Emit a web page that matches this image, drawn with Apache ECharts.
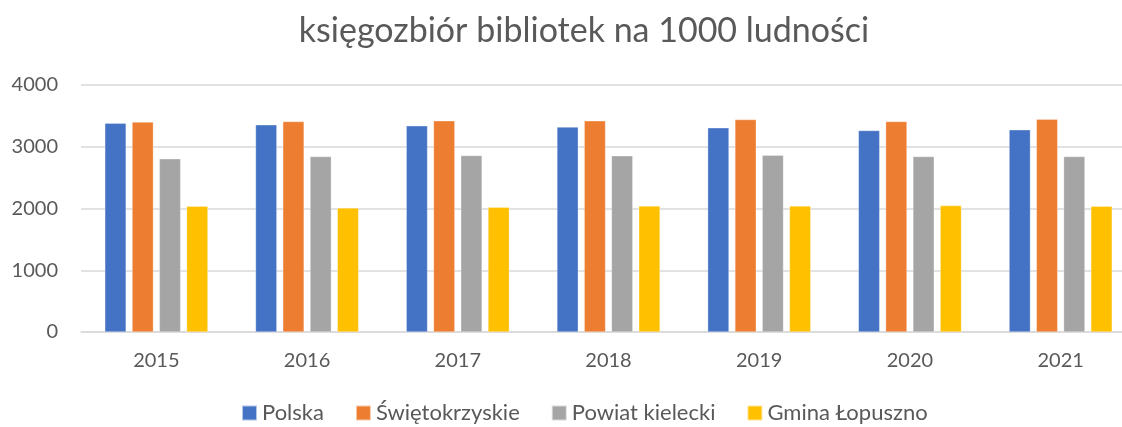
<!DOCTYPE html>
<html>
<head>
<meta charset="utf-8">
<script src="https://cdn.jsdelivr.net/npm/echarts@6/dist/echarts.min.js"></script>
<style>html,body{margin:0;padding:0;background:#fff;}#c{width:1122px;height:427px;}</style>
</head>
<body>
<div id="c"></div>
<script>
const years = ['2015','2016','2017','2018','2019','2020','2021'];
const polska = [3382, 3355, 3339, 3318, 3306, 3263, 3274];
const swietokrzyskie = [3399, 3408, 3420, 3420, 3441, 3408, 3447];
const powiatKielecki = [2804, 2841, 2858, 2853, 2864, 2841, 2841];
const gminaLopuszno = [2037, 2010, 2021, 2042, 2042, 2047, 2037];
const seriesNames = ['Polska', 'Świętokrzyskie', 'Powiat kielecki', 'Gmina Łopuszno'];
const yTicks = [0, 1000, 2000, 3000, 4000];

const colors = ['#4472C4', '#ED7D31', '#A5A5A5', '#FFC000'];
const font = 'Lato, "Open Sans", sans-serif';
const chart = echarts.init(document.getElementById('c'));
const mk = (name, data, i) => ({
  name, type: 'bar', data,
  barGap: '28%', barCategoryGap: '31.6%',
  itemStyle: { color: colors[i], borderColor: 'rgba(255,255,255,0.6)', borderWidth: 0.5 }
});
chart.setOption({
  animation: false,
  color: colors,
  title: {
    text: 'księgozbiór bibliotek na 1000 ludności',
    left: 579, top: 9, textAlign: 'center',
    textStyle: { fontFamily: font, fontSize: 34, fontWeight: 'normal', color: '#595959' }
  },
  legend: {
    top: 402, left: 241, itemWidth: 15, itemHeight: 15, itemGap: 31,
    icon: 'rect', padding: 0,
    textStyle: { fontFamily: font, fontSize: 22, color: '#595959' },
    data: seriesNames
  },
  grid: { left: 81, width: 1055, top: 85, bottom: 95, containLabel: false, outerBoundsMode: 'none' },
  xAxis: {
    type: 'category', data: years,
    axisLine: { lineStyle: { color: '#d9d9d9', width: 1.5 } },
    axisTick: { show: false },
    axisLabel: { fontFamily: font, fontSize: 20, color: '#595959', margin: 19 }
  },
  yAxis: {
    type: 'value', min: yTicks[0], max: yTicks[yTicks.length - 1], interval: 1000,
    axisLine: { show: false }, axisTick: { show: false },
    splitLine: { lineStyle: { color: '#d9d9d9', width: 1.5 } },
    axisLabel: { fontFamily: font, fontSize: 20, color: '#595959', margin: 23, formatter: v => String(v) }
  },
  series: [
    mk(seriesNames[0], polska, 0),
    mk(seriesNames[1], swietokrzyskie, 1),
    mk(seriesNames[2], powiatKielecki, 2),
    mk(seriesNames[3], gminaLopuszno, 3)
  ]
});
</script>
</body>
</html>
